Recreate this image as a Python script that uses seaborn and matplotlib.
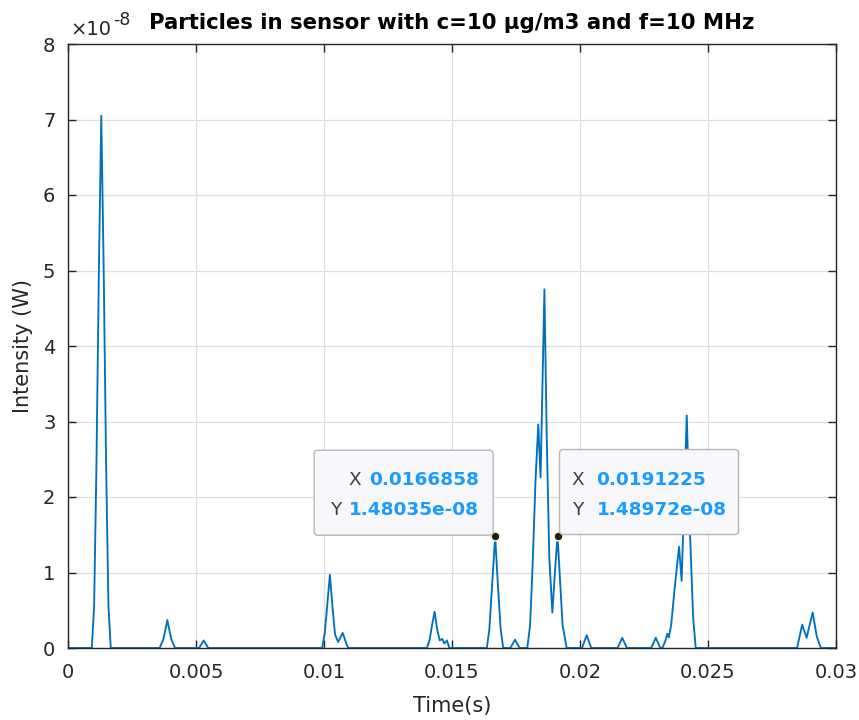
import numpy as np
import pandas as pd
import matplotlib
matplotlib.use("Agg")
import matplotlib.pyplot as plt
import seaborn as sns
from matplotlib.patches import FancyBboxPatch
from matplotlib.transforms import IdentityTransform
from matplotlib.ticker import FixedLocator, FuncFormatter

# ---- signal samples: time (s) and detected intensity (units of 1e-8 W) ----
time_s = [
    0.0,
    0.00093, 0.00102, 0.00111, 0.00121, 0.00130, 0.00139, 0.00149, 0.00158, 0.00167,
    0.00358, 0.00373, 0.00388, 0.00403, 0.00418,
    0.00512, 0.00530, 0.00548,
    0.00993, 0.01003, 0.01013, 0.01023, 0.01033, 0.01043, 0.01055, 0.01073, 0.01088, 0.01095,
    0.01402, 0.01412, 0.01422, 0.01432, 0.01442, 0.01452, 0.01462, 0.01470, 0.01480, 0.01490,
    0.01636, 0.01646, 0.01657, 0.0166858, 0.01679, 0.01690, 0.01700,
    0.01728, 0.01746, 0.01764,
    0.01794, 0.01805, 0.01815, 0.01826, 0.01837, 0.01846, 0.01861, 0.01870, 0.01880,
    0.01892, 0.01902, 0.0191225, 0.01922, 0.01932, 0.01948,
    0.02008, 0.02026, 0.02044,
    0.02147, 0.02165, 0.02183,
    0.02278, 0.02296, 0.02314,
    0.02322, 0.02334, 0.02341, 0.02347, 0.02356, 0.02370, 0.02387, 0.02397, 0.02417,
    0.02430, 0.02442, 0.02452,
    0.02848, 0.02868, 0.02885, 0.02909, 0.02925, 0.02941,
    0.03,
]
intensity_e8 = [
    0.0,
    0.0, 0.55, 2.4, 5.1, 7.05, 5.1, 2.4, 0.55, 0.0,
    0.0, 0.12, 0.37, 0.12, 0.0,
    0.0, 0.10, 0.0,
    0.0, 0.2, 0.58, 0.97, 0.55, 0.18, 0.08, 0.2, 0.05, 0.0,
    0.0, 0.1, 0.3, 0.48, 0.25, 0.1, 0.12, 0.06, 0.10, 0.0,
    0.0, 0.25, 0.85, 1.48035, 0.85, 0.25, 0.0,
    0.0, 0.11, 0.0,
    0.0, 0.3, 1.1, 2.2, 2.96, 2.26, 4.75, 2.8, 1.2,
    0.47, 1.0, 1.48972, 0.9, 0.3, 0.0,
    0.0, 0.17, 0.0,
    0.0, 0.135, 0.0,
    0.0, 0.135, 0.0,
    0.0, 0.1, 0.19, 0.14, 0.3, 0.8, 1.34, 0.89, 3.08,
    1.5, 0.4, 0.0,
    0.0, 0.31, 0.135, 0.47, 0.15, 0.0,
    0.0,
]

# data tips shown on the plot
tip_x = [0.0166858, 0.0191225]
tip_y = [1.48035e-08, 1.48972e-08]
tip_x_text = ["0.0166858", "0.0191225"]
tip_y_text = ["1.48035e-08", "1.48972e-08"]

x_ticks = [0, 0.005, 0.01, 0.015, 0.02, 0.025, 0.03]
x_tick_labels = ["0", "0.005", "0.01", "0.015", "0.02", "0.025", "0.03"]
y_ticks_e8 = [0, 1, 2, 3, 4, 5, 6, 7, 8]

title_text = "Particles in sensor with c=10 \u03bcg/m3 and f=10 MHz"

df = pd.DataFrame({"Time": time_s, "Intensity": np.array(intensity_e8) * 1e-8})

sns.set_style("white")
plt.rcParams["font.family"] = ["DejaVu Sans"]

W, H = 859, 720
fig = plt.figure(figsize=(W / 100, H / 100), dpi=100)
ax = fig.add_axes([68 / W, (H - 648) / H, 768 / W, 604 / H])

sns.lineplot(data=df, x="Time", y="Intensity", ax=ax, color="#0072BD",
             linewidth=1.35, estimator=None, sort=False)

ax.set_xlim(0, 0.03)
ax.set_ylim(0, 8e-8)
ax.xaxis.set_major_locator(FixedLocator(x_ticks))
ax.set_xticklabels(x_tick_labels)
ax.yaxis.set_major_locator(FixedLocator([v * 1e-8 for v in y_ticks_e8]))
ax.yaxis.set_major_formatter(FuncFormatter(lambda v, p: f"{v / 1e-8:g}"))

axis_col = "#262626"
ax.grid(True, color="#dedede", linewidth=0.9)
ax.set_axisbelow(True)
for s in ax.spines.values():
    s.set_visible(True)
    s.set_color(axis_col)
    s.set_linewidth(1.0)
ax.tick_params(axis="both", which="major", direction="in", length=6, width=1.0,
               color=axis_col, labelcolor=axis_col, labelsize=14,
               top=True, right=True, bottom=True, left=True)
ax.tick_params(axis="x", pad=11)
ax.tick_params(axis="y", pad=9)

ax.set_xlabel("Time(s)", fontsize=15, color=axis_col)
ax.set_ylabel("Intensity (W)", fontsize=15, color=axis_col)
ax.xaxis.set_label_coords(0.5, -0.08)
ax.yaxis.set_label_coords(-0.045, 0.5)

fig.text(452 / W, 1 - 29 / H, title_text, ha="center", va="baseline",
         fontsize=15.3, fontweight="bold", color="black")

# exponent label of the y axis
fig.text(70 / W, 1 - 35 / H, "\u00d710", ha="left", va="baseline",
         fontsize=14, color=axis_col)
fig.text(113 / W, 1 - 25 / H, "-8", ha="left", va="baseline",
         fontsize=12.5, color=axis_col)

# data tips, laid out in pixels around each tip point
blue = "#1a9bff"
gray = "#404040"
box_w, box_h = 179, 85
tip_fs = 13.3
renderer = fig.canvas.get_renderer()
pix = IdentityTransform()
for i, (tx, ty) in enumerate(zip(tip_x, tip_y)):
    px, py = ax.transData.transform((tx, ty))
    left = i == 0
    bx = px - 2 - box_w if left else px + 2
    by = py + 1
    patch = FancyBboxPatch((bx, by), box_w, box_h, transform=pix,
                           boxstyle="round,pad=0,rounding_size=4",
                           fc="#f8f8fc", ec="#b8b8b8", lw=1.0, zorder=6)
    fig.add_artist(patch)
    rows = (("X", tip_x_text[i], by + box_h - 30), ("Y", tip_y_text[i], by + box_h - 60))
    for lab, val, ycen in rows:
        if left:
            vt = fig.text(bx + box_w - 14, ycen, val, transform=pix, ha="right",
                          va="center", color=blue, fontsize=tip_fs,
                          fontweight="bold", zorder=7)
            ext = vt.get_window_extent(renderer)
            fig.text(ext.x0 - 8, ycen, lab, transform=pix, ha="right", va="center",
                     color=gray, fontsize=tip_fs, zorder=7)
        else:
            fig.text(bx + 12, ycen, lab, transform=pix, ha="left", va="center",
                     color=gray, fontsize=tip_fs, zorder=7)
            fig.text(bx + 37, ycen, val, transform=pix, ha="left", va="center",
                     color=blue, fontsize=tip_fs, fontweight="bold", zorder=7)
ax.scatter(tip_x, tip_y, s=40, color="#1c1c1c", edgecolor="#ffffc8",
           linewidth=1.0, zorder=8, clip_on=False)

fig.savefig("out.png", dpi=100)
